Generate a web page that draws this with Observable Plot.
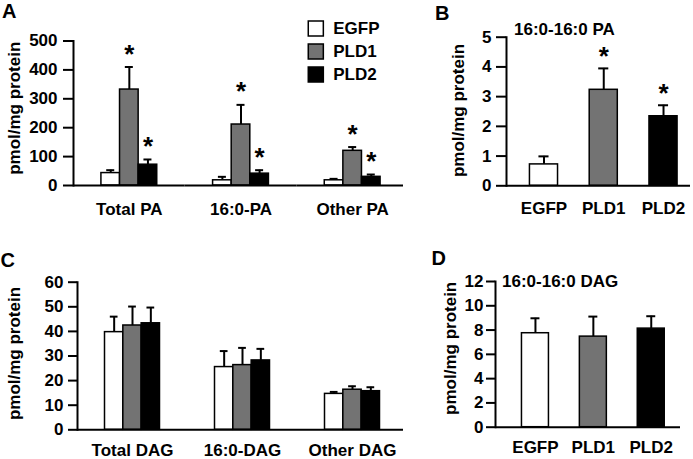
<!DOCTYPE html>
<html><head><meta charset="utf-8">
<script src="https://cdn.jsdelivr.net/npm/d3@7"></script>
<script src="https://cdn.jsdelivr.net/npm/@observablehq/plot@0.6"></script>
<style>
body{margin:0;background:white;}
#root{position:relative;width:693px;height:459px;overflow:hidden;background:white;font-family:'Liberation Sans',Arial,Helvetica,sans-serif;font-weight:bold;color:black;}
.panel{position:absolute;}
.lbl{position:absolute;line-height:1;white-space:nowrap;}
</style></head><body><div id="root"></div>
<script>
// ---------- data ----------
const series = ["EGFP", "PLD1", "PLD2"];
const seriesColors = ["#ffffff", "#737373", "#000000"];

const groupsPA = ["Total PA", "16:0-PA", "Other PA"];
const valuesPA = [[43, 332, 72], [18, 211, 41], [18, 120, 30]];
const errorsPA = [[10, 78, 18], [12, 68, 12], [5, 13, 8]];
const starsPA = [[false, true, true], [false, true, true], [false, true, true]];
const ticksPA = [0, 100, 200, 300, 400, 500];

const valuesPA16 = [0.72, 3.23, 2.34];
const errorsPA16 = [0.27, 0.72, 0.37];
const starsPA16 = [false, true, true];
const ticksPA16 = [0, 1, 2, 3, 4, 5];

const groupsDAG = ["Total DAG", "16:0-DAG", "Other DAG"];
const valuesDAG = [[39.7, 42.4, 43.3], [25.5, 26.3, 28.2], [14.6, 16.3, 15.7]];
const errorsDAG = [[6.3, 7.7, 6.4], [6.5, 7.0, 4.7], [0.8, 1.4, 1.6]];
const starsDAG = [[false, false, false], [false, false, false], [false, false, false]];
const ticksDAG = [0, 10, 20, 30, 40, 50, 60];

const valuesDAG16 = [7.74, 7.46, 8.12];
const errorsDAG16 = [1.23, 1.65, 1.02];
const starsDAG16 = [false, false, false];
const ticksDAG16 = [0, 2, 4, 6, 8, 10, 12];

const yLabel = "pmol/mg protein";
// ---------------------------

const FONT = "'Liberation Sans', Arial, Helvetica, sans-serif";
const root = document.getElementById("root");

function place(el, left, top) {
  const d = document.createElement("div");
  d.className = "panel";
  d.style.left = left + "px";
  d.style.top = top + "px";
  d.appendChild(el);
  root.appendChild(d);
}
function label(text, left, top, size) {
  const s = document.createElement("div");
  s.className = "lbl";
  s.style.left = left + "px";
  s.style.top = top + "px";
  s.style.fontSize = size + "px";
  s.textContent = text;
  root.appendChild(s);
}

function groupedRows(groups, values, errors, stars) {
  const rows = [];
  groups.forEach((g, i) => series.forEach((s, j) => rows.push({group: g, series: s, value: values[i][j], err: errors[i][j], star: stars[i][j]})));
  return rows;
}

function groupedPanel(o) {
  const rows = groupedRows(o.groups, o.values, o.errors, o.stars);
  return Plot.plot({
    width: o.width, height: o.height,
    marginLeft: o.ml, marginRight: o.mr, marginTop: o.mt, marginBottom: o.mb,
    style: {fontFamily: FONT, fontWeight: "bold", background: "transparent", overflow: "visible", color: "black"},
    fx: {domain: o.groups, padding: 0, round: false, label: null},
    x: {domain: series, paddingInner: 0, paddingOuter: 1.5, round: false, axis: null},
    y: {domain: [0, d3.max(o.ticks)], axis: null},
    color: {domain: series, range: seriesColors},
    marks: [
      Plot.ruleX(rows, {fx: "group", x: "series", y1: "value", y2: d => d.value + d.err, strokeWidth: 2}),
      Plot.tickY(rows, {fx: "group", x: "series", y: d => d.value + d.err, inset: 5.3, strokeWidth: 2}),
      Plot.barY(rows, {fx: "group", x: "series", y: "value", fill: "series", stroke: "black", strokeWidth: 1.5}),
      Plot.text(rows.filter(d => d.star), {fx: "group", x: "series", y: d => d.value + d.err, text: () => "*", lineAnchor: "bottom", dy: -4.5, fontSize: 26}),
      Plot.ruleY([0], {strokeWidth: 2}),
      Plot.frame({anchor: "left", facetAnchor: "left", strokeWidth: 2}),
      Plot.axisY({ticks: o.ticks, tickFormat: d => String(d), tickSize: o.tickSize, tickPadding: o.tickPad, fontSize: 17, strokeWidth: 2, label: null}),
      Plot.axisFx({anchor: "bottom", tickSize: 0, tickPadding: o.fxPad, fontSize: 17, label: null}),
      Plot.text([yLabel], {frameAnchor: "left", facetAnchor: "left", text: d => d, rotate: -90, textAnchor: "middle", lineAnchor: "middle", dx: o.labelDx, dy: o.labelDy, fontSize: 17})
    ]
  });
}

function simplePanel(o) {
  const rows = series.map((s, i) => ({series: s, value: o.values[i], err: o.errors[i], star: o.stars[i]}));
  return Plot.plot({
    width: o.width, height: o.height,
    marginLeft: o.ml, marginRight: o.mr, marginTop: o.mt, marginBottom: o.mb,
    style: {fontFamily: FONT, fontWeight: "bold", background: "white", overflow: "visible", color: "black"},
    x: {domain: series, range: o.xrange, paddingInner: o.pi, paddingOuter: o.pi / 2, round: false, axis: null},
    y: {domain: [0, d3.max(o.ticks)], axis: null},
    color: {domain: series, range: seriesColors},
    marks: [
      Plot.ruleX(rows, {x: "series", y1: "value", y2: d => d.value + d.err, strokeWidth: 2}),
      Plot.tickY(rows, {x: "series", y: d => d.value + d.err, inset: 9, strokeWidth: 2}),
      Plot.barY(rows, {x: "series", y: "value", fill: "series", stroke: "black", strokeWidth: 1.5}),
      Plot.text(rows.filter(d => d.star), {x: "series", y: d => d.value + d.err, text: () => "*", lineAnchor: "bottom", dy: -3, fontSize: 26}),
      Plot.ruleY([0], {strokeWidth: 2}),
      Plot.frame({anchor: "left", strokeWidth: 2}),
      Plot.axisY({ticks: o.ticks, tickFormat: d => String(d), tickSize: o.tickSize, tickPadding: o.tickPad, fontSize: 17, strokeWidth: 2, label: null}),
      Plot.axisX({tickSize: 0, tickPadding: o.xPad, fontSize: 17, label: null}),
      Plot.text([yLabel], {frameAnchor: "left", text: d => d, rotate: -90, textAnchor: "middle", lineAnchor: "middle", dx: o.labelDx, dy: o.labelDy, fontSize: 17})
    ]
  });
}

// Panel A
place(groupedPanel({groups: groupsPA, values: valuesPA, errors: errorsPA, stars: starsPA, ticks: ticksPA,
  width: 408, height: 230, ml: 73, mr: 0, mt: 40.5, mb: 45, tickSize: 10, tickPad: 6, fxPad: 17, labelDx: -59, labelDy: -5}), 0, 0);

// Panel C
place(groupedPanel({groups: groupsDAG, values: valuesDAG, errors: errorsDAG, stars: starsDAG, ticks: ticksDAG,
  width: 408, height: 229, ml: 77, mr: 1, mt: 51.7, mb: 29.7, tickSize: 9, tickPad: 5, fxPad: 14, labelDx: -62.5, labelDy: -2.5}), 0, 230);

// Panel B
place(simplePanel({values: valuesPA16, errors: errorsPA16, stars: starsPA16, ticks: ticksPA16,
  width: 290, height: 230, ml: 103, mr: 3, mt: 36.7, mb: 44.7, xrange: [110.6, 289.9], pi: 0.53,
  tickSize: 10, tickPad: 5, xPad: 16, labelDx: -47.7, labelDy: -1}), 403, 0);

// Panel D
place(simplePanel({values: valuesDAG16, errors: errorsDAG16, stars: starsDAG16, ticks: ticksDAG16,
  width: 290, height: 229, ml: 92, mr: 13, mt: 51, mb: 32.3, xrange: [103, 276.7], pi: 0.534,
  tickSize: 9, tickPad: 3, xPad: 13.5, labelDx: -44.5, labelDy: -6}), 403, 230);

// Legend
place(Plot.plot({
  width: 100, height: 80, margin: 0,
  style: {fontFamily: FONT, fontWeight: "bold", background: "transparent", overflow: "visible", color: "black"},
  y: {type: "point", domain: series, range: [17.5, 64.5], padding: 0, axis: null},
  color: {domain: series, range: seriesColors},
  marks: [
    Plot.dot(series, {frameAnchor: "left", y: d => d, symbol: "square", r: 8.5, fill: d => d, stroke: "black", strokeWidth: 1.5, dx: 15.3}),
    Plot.text(series, {frameAnchor: "left", y: d => d, text: d => d, textAnchor: "start", dx: 32.7, fontSize: 17})
  ]
}), 300, 10);

// Panel letters and titles
label("A", 2, 0.6, 20);
label("B", 435, 3.1, 20);
label("C", 0.5, 249.8, 20);
label("D", 431.5, 248, 20);
label("16:0-16:0 PA", 514, 21.1, 17);
label("16:0-16:0 DAG", 502, 272.6, 17);
</script></body></html>
